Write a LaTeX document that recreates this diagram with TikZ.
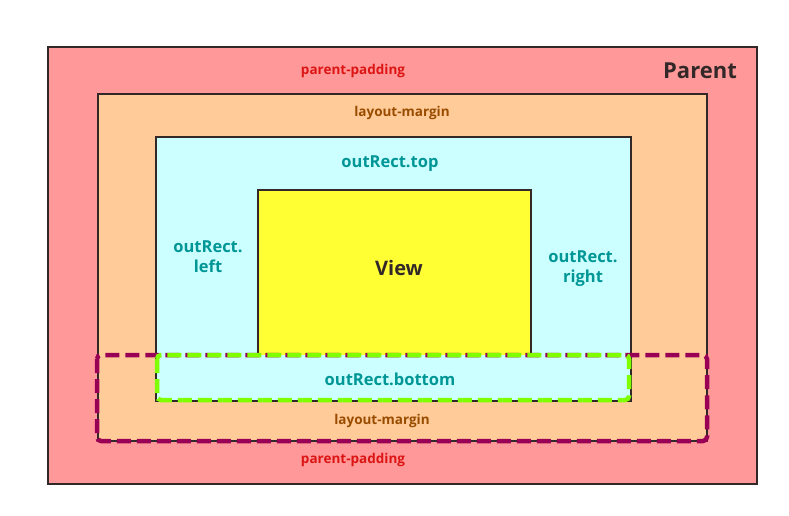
\documentclass[tikz,border=0pt]{standalone}
\usepackage{fontspec}
\setmainfont{Open Sans}
\definecolor{parentred}{RGB}{255,153,153}
\definecolor{margorange}{RGB}{255,204,153}
\definecolor{rectcyan}{RGB}{204,255,255}
\definecolor{viewyellow}{RGB}{255,255,51}
\definecolor{edgegray}{RGB}{51,40,40}
\definecolor{padtext}{RGB}{220,20,20}
\definecolor{margtext}{RGB}{153,76,0}
\definecolor{recttext}{RGB}{0,150,150}
\definecolor{bottomgreen}{RGB}{128,255,0}
\definecolor{bottompurple}{RGB}{153,0,85}
\tikzset{
  box/.style={draw=edgegray, line width=1.5pt},
  padlabel/.style={text=padtext, font=\bfseries\fontsize{13.5}{16}\selectfont},
  marglabel/.style={text=margtext, font=\bfseries\fontsize{13.5}{16}\selectfont},
  rectlabel/.style={text=recttext, font=\bfseries\fontsize{16.5}{20}\selectfont, align=center},
  biglabel/.style={text=edgegray, font=\bfseries\fontsize{20}{24}\selectfont},
  bottomdash/.style={line width=4.5pt, rounded corners=4pt, dash pattern=on 14pt off 6pt}
}
\begin{document}
\begin{tikzpicture}[x=1pt, y=-1pt]
  \useasboundingbox[fill=white] (0,0) rectangle (789,516);
  % nested boxes
  \coordinate (pa) at (48,47);   \coordinate (pb) at (757,484);
  \coordinate (ma) at (98,94);   \coordinate (mb) at (707,441);
  \coordinate (ra) at (156,137); \coordinate (rb) at (631,401);
  \coordinate (va) at (258,190); \coordinate (vb) at (531,380);
  \draw[box, fill=parentred] (pa) rectangle (pb);
  \draw[box, fill=margorange] (ma) rectangle (mb);
  \draw[box, fill=rectcyan] (ra) rectangle (rb);
  \draw[box, fill=viewyellow] (va) rectangle (vb);
  % bottom part
  \fill[rectcyan] (157,355) rectangle (629,400);
  \draw[bottomdash, draw=bottompurple] (97,355) rectangle (707,441);
  \draw[bottomdash, draw=bottomgreen] (157,355) rectangle (629,400);
  % labels
  \node[padlabel] (padtop) at (353,71) {parent-padding};
  \node[padlabel] (padbot) at (353,460) {parent-padding};
  \node[biglabel, font=\bfseries\fontsize{22}{26}\selectfont] (parent) at (700,71) {Parent};
  \node[marglabel] (margtop) at (402,113) {layout-margin};
  \node[marglabel] (margbot) at (382,421) {layout-margin};
  \node[rectlabel] (top) at (390,164) {outRect.top};
  \node[rectlabel] (left) at (208,257) {outRect.\\left};
  \node[rectlabel] (right) at (583,269) {outRect.\\right};
  \node[rectlabel] (bottom) at (390,379) {outRect.bottom};
  \node[biglabel] (view) at (399,268) {View};
\end{tikzpicture}
\end{document}
